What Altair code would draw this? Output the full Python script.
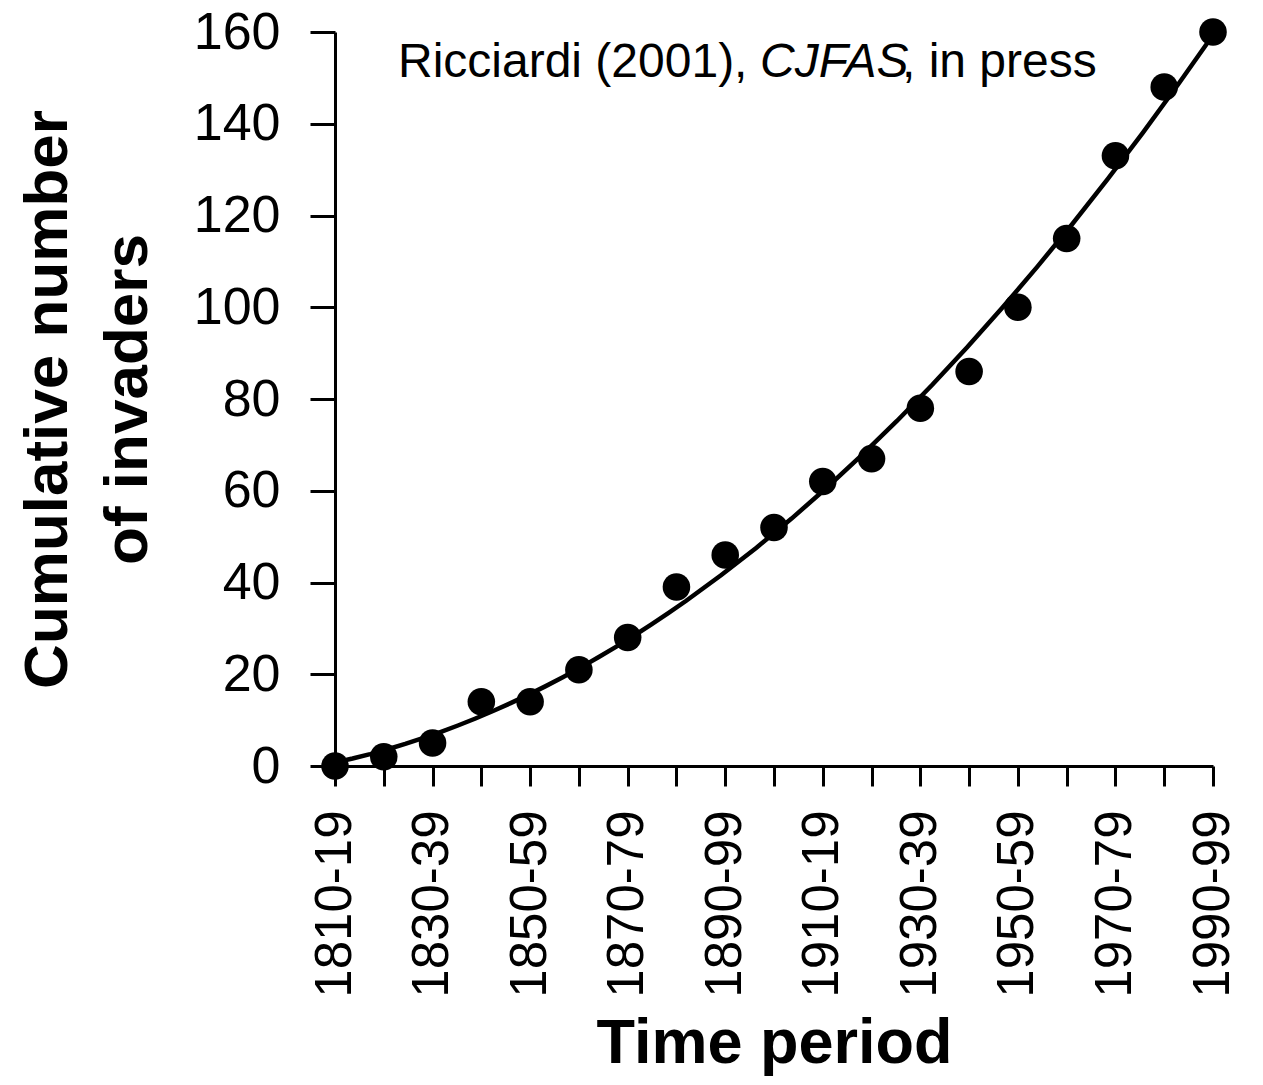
import json
import altair as alt
import pandas as pd

# ---- data ----
periods = ["1810-19", "1820-29", "1830-39", "1840-49", "1850-59", "1860-69",
           "1870-79", "1880-89", "1890-99", "1900-09", "1910-19", "1920-29",
           "1930-39", "1940-49", "1950-59", "1960-69", "1970-79", "1980-89",
           "1990-99"]
invaders = [0, 2, 5, 14, 14, 21, 28, 39, 46, 52, 62, 67, 78, 86, 100, 115, 133, 148, 160]
shown_labels = [p if i % 2 == 0 else "" for i, p in enumerate(periods)]
y_ticks = [0, 20, 40, 60, 80, 100, 120, 140, 160]
note_parts = ["Ricciardi (2001), ", "CJFAS", ", in press"]

start_years = [int(p[:4]) for p in periods]
df = pd.DataFrame({"year": start_years, "count": invaders, "period": periods})

FONT = "Liberation Sans"
label_expr = json.dumps(shown_labels) + "[round((datum.value - %d) / 10)]" % start_years[0]

x = alt.X(
    "year:Q",
    scale=alt.Scale(domain=[start_years[0], start_years[-1]], nice=False, zero=False),
    axis=alt.Axis(
        values=start_years, labelExpr=label_expr, labelAngle=270,
        labelAlign="right", labelBaseline="middle", labelFontSize=51,
        labelPadding=24, labelFlush=False, labelOverlap=False, labelBound=False,
        labelLimit=0,
        tickSize=20, tickWidth=3, domainWidth=3, grid=False,
        title="Time period", titleFontSize=63, titleFontWeight="bold",
        titleBaseline="alphabetic", titleY=296,
    ),
)
y = alt.Y(
    "count:Q",
    scale=alt.Scale(domain=[0, 160], nice=False),
    axis=alt.Axis(
        values=y_ticks, tickSize=25, tickWidth=3, domainWidth=3, grid=False,
        labelFontSize=52, labelPadding=30, labelFlush=False, labelOverlap=False,
        title=["Cumulative number", "of invaders"], titleFontSize=62,
        titleFontWeight="bold", titleLineHeight=80, titlePadding=34,
    ),
)

fit = alt.Chart(df).mark_line(color="black", strokeWidth=4.5).transform_regression(
    "year", "count", method="poly", order=2,
    extent=[start_years[0], start_years[-1]]
).encode(x=x, y=y)

points = alt.Chart(df).mark_circle(size=760, color="black", opacity=1).encode(x=x, y=y)

note_x = [63, 425, 567]
note_styles = ["normal", "italic", "normal"]
notes = [
    alt.Chart(pd.DataFrame({"t": [txt]})).mark_text(
        align="left", baseline="alphabetic", fontSize=48, font=FONT,
        color="black", fontStyle=sty
    ).encode(x=alt.value(nx), y=alt.value(45), text="t:N")
    for txt, nx, sty in zip(note_parts, note_x, note_styles)
]

chart = alt.layer(fit, points, *notes).properties(
    width=878, height=734,
    autosize=alt.AutoSizeParams(type="none"),
    padding={"left": 327, "top": 24, "right": 40, "bottom": 310},
    background="white",
).configure_view(stroke=None).configure_axis(
    labelFont=FONT, titleFont=FONT, domainColor="black", tickColor="black",
    labelColor="black", titleColor="black",
)

chart.save("out.html", embed_options={"renderer": "svg", "actions": False})
